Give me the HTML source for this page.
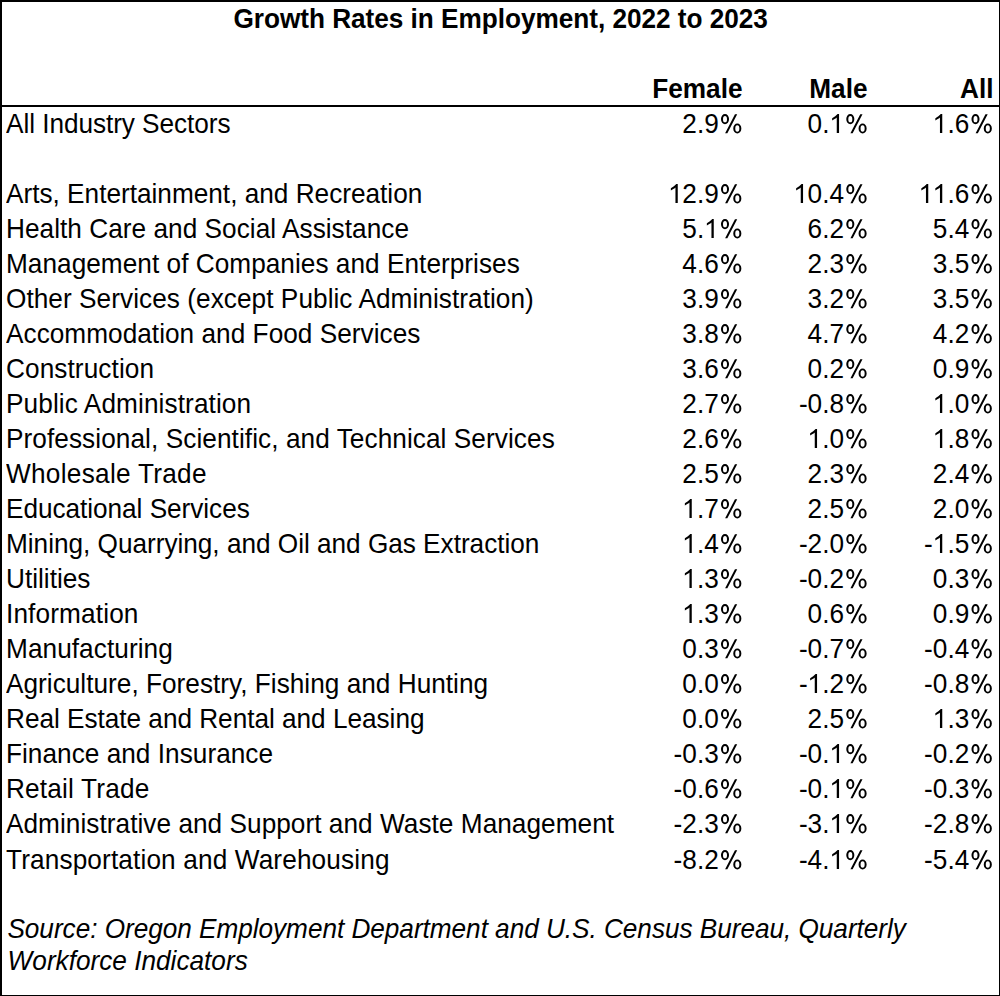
<!DOCTYPE html>
<html><head><meta charset="utf-8"><title>Growth Rates in Employment, 2022 to 2023</title>
<style>
html,body{margin:0;padding:0;background:#fff;}
body{width:1000px;height:996px;position:relative;overflow:hidden;font-family:"Liberation Sans",sans-serif;color:#000;}
.l{position:absolute;height:35px;line-height:35px;font-size:26.2px;white-space:nowrap;transform-origin:0 26px;}
.n{text-align:right;transform-origin:100% 26px;}
.b{font-weight:bold;}
.i{font-style:italic;}
.bl{position:absolute;background:#000;}
.o1{vertical-align:baseline;display:inline-block;}
.pc{display:inline-block;}
</style></head><body>

<div class="bl" style="left:0;top:0;width:1000px;height:2px"></div>
<div class="bl" style="left:0;top:0;width:2px;height:996px"></div>
<div class="bl" style="left:999px;top:0;width:1px;height:996px"></div>
<div class="bl" style="left:0;top:995px;width:1000px;height:1px"></div>
<div class="bl" style="left:0;top:105px;width:1000px;height:2px"></div>
<div class="l b" style="top:2px;left:233px;letter-spacing:-0.0308px;transform:translate(0.5px,0px) scaleY(1.05);">Growth Rates in Employment, 2022 to 2023</div>
<div class="l b n" style="top:72px;right:258px;transform:translate(0.5px,0px) scaleY(1.05);">Female</div>
<div class="l b n" style="top:72px;right:133px;transform:translate(0.5px,0px) scaleY(1.05);">Male</div>
<div class="l b n" style="top:72px;right:8px;transform:translate(1.5px,0px) scaleY(1.05);">All</div>
<div class="l" style="top:107px;left:6px;letter-spacing:-0.0526px;transform:scaleY(1.05);">All Industry Sectors</div>
<div class="l n" style="top:107px;right:258px;transform:scaleY(1.05);">2.9<svg class="pc" viewBox="0 0 1821 1500" width="23.296" height="19.189" style="vertical-align:-0.768px"><path fill-rule="evenodd" d="M153.0 372A316.5 376 0 1 0 786.0 372A316.5 376 0 1 0 153.0 372ZM314 374A156 240 0 1 0 626 374A156 240 0 1 0 314 374ZM1115.0 1067.5A316.5 372.5 0 1 0 1748.0 1067.5A316.5 372.5 0 1 0 1115.0 1067.5ZM1272 1069A160 238 0 1 0 1592 1069A160 238 0 1 0 1272 1069ZM478 1425L653 1425L1424 20L1248 20Z"/></svg></div>
<div class="l n" style="top:107px;right:133px;transform:translate(0.3px,0px) scaleY(1.05);">0.<svg class="o1" viewBox="0 0 1139 1409" width="14.571" height="18.025"><path d="M763 1409L583 1409L583 262C518 324 412 386 223 479L223 305C374 234 560 109 647 0L763 0Z"/></svg><svg class="pc" viewBox="0 0 1821 1500" width="23.296" height="19.189" style="vertical-align:-0.768px"><path fill-rule="evenodd" d="M153.0 372A316.5 376 0 1 0 786.0 372A316.5 376 0 1 0 153.0 372ZM314 374A156 240 0 1 0 626 374A156 240 0 1 0 314 374ZM1115.0 1067.5A316.5 372.5 0 1 0 1748.0 1067.5A316.5 372.5 0 1 0 1115.0 1067.5ZM1272 1069A160 238 0 1 0 1592 1069A160 238 0 1 0 1272 1069ZM478 1425L653 1425L1424 20L1248 20Z"/></svg></div>
<div class="l n" style="top:107px;right:8px;transform:translate(0.5px,0px) scaleY(1.05);"><svg class="o1" viewBox="0 0 1139 1409" width="14.571" height="18.025"><path d="M763 1409L583 1409L583 262C518 324 412 386 223 479L223 305C374 234 560 109 647 0L763 0Z"/></svg>.6<svg class="pc" viewBox="0 0 1821 1500" width="23.296" height="19.189" style="vertical-align:-0.768px"><path fill-rule="evenodd" d="M153.0 372A316.5 376 0 1 0 786.0 372A316.5 376 0 1 0 153.0 372ZM314 374A156 240 0 1 0 626 374A156 240 0 1 0 314 374ZM1115.0 1067.5A316.5 372.5 0 1 0 1748.0 1067.5A316.5 372.5 0 1 0 1115.0 1067.5ZM1272 1069A160 238 0 1 0 1592 1069A160 238 0 1 0 1272 1069ZM478 1425L653 1425L1424 20L1248 20Z"/></svg></div>
<div class="l" style="top:177px;left:6px;transform:scaleY(1.05);">Arts, Entertainment, and Recreation</div>
<div class="l n" style="top:177px;right:258px;transform:scaleY(1.05);"><svg class="o1" viewBox="0 0 1139 1409" width="14.571" height="18.025"><path d="M763 1409L583 1409L583 262C518 324 412 386 223 479L223 305C374 234 560 109 647 0L763 0Z"/></svg>2.9<svg class="pc" viewBox="0 0 1821 1500" width="23.296" height="19.189" style="vertical-align:-0.768px"><path fill-rule="evenodd" d="M153.0 372A316.5 376 0 1 0 786.0 372A316.5 376 0 1 0 153.0 372ZM314 374A156 240 0 1 0 626 374A156 240 0 1 0 314 374ZM1115.0 1067.5A316.5 372.5 0 1 0 1748.0 1067.5A316.5 372.5 0 1 0 1115.0 1067.5ZM1272 1069A160 238 0 1 0 1592 1069A160 238 0 1 0 1272 1069ZM478 1425L653 1425L1424 20L1248 20Z"/></svg></div>
<div class="l n" style="top:177px;right:133px;transform:translate(0.3px,0px) scaleY(1.05);"><svg class="o1" viewBox="0 0 1139 1409" width="14.571" height="18.025"><path d="M763 1409L583 1409L583 262C518 324 412 386 223 479L223 305C374 234 560 109 647 0L763 0Z"/></svg>0.4<svg class="pc" viewBox="0 0 1821 1500" width="23.296" height="19.189" style="vertical-align:-0.768px"><path fill-rule="evenodd" d="M153.0 372A316.5 376 0 1 0 786.0 372A316.5 376 0 1 0 153.0 372ZM314 374A156 240 0 1 0 626 374A156 240 0 1 0 314 374ZM1115.0 1067.5A316.5 372.5 0 1 0 1748.0 1067.5A316.5 372.5 0 1 0 1115.0 1067.5ZM1272 1069A160 238 0 1 0 1592 1069A160 238 0 1 0 1272 1069ZM478 1425L653 1425L1424 20L1248 20Z"/></svg></div>
<div class="l n" style="top:177px;right:8px;transform:translate(0.5px,0px) scaleY(1.05);"><svg class="o1" viewBox="0 0 1139 1409" width="14.571" height="18.025"><path d="M763 1409L583 1409L583 262C518 324 412 386 223 479L223 305C374 234 560 109 647 0L763 0Z"/></svg><svg class="o1" viewBox="0 0 1139 1409" width="14.571" height="18.025"><path d="M763 1409L583 1409L583 262C518 324 412 386 223 479L223 305C374 234 560 109 647 0L763 0Z"/></svg>.6<svg class="pc" viewBox="0 0 1821 1500" width="23.296" height="19.189" style="vertical-align:-0.768px"><path fill-rule="evenodd" d="M153.0 372A316.5 376 0 1 0 786.0 372A316.5 376 0 1 0 153.0 372ZM314 374A156 240 0 1 0 626 374A156 240 0 1 0 314 374ZM1115.0 1067.5A316.5 372.5 0 1 0 1748.0 1067.5A316.5 372.5 0 1 0 1115.0 1067.5ZM1272 1069A160 238 0 1 0 1592 1069A160 238 0 1 0 1272 1069ZM478 1425L653 1425L1424 20L1248 20Z"/></svg></div>
<div class="l" style="top:212px;left:6px;letter-spacing:0.0375px;transform:scaleY(1.05);">Health Care and Social Assistance</div>
<div class="l n" style="top:212px;right:258px;transform:scaleY(1.05);">5.<svg class="o1" viewBox="0 0 1139 1409" width="14.571" height="18.025"><path d="M763 1409L583 1409L583 262C518 324 412 386 223 479L223 305C374 234 560 109 647 0L763 0Z"/></svg><svg class="pc" viewBox="0 0 1821 1500" width="23.296" height="19.189" style="vertical-align:-0.768px"><path fill-rule="evenodd" d="M153.0 372A316.5 376 0 1 0 786.0 372A316.5 376 0 1 0 153.0 372ZM314 374A156 240 0 1 0 626 374A156 240 0 1 0 314 374ZM1115.0 1067.5A316.5 372.5 0 1 0 1748.0 1067.5A316.5 372.5 0 1 0 1115.0 1067.5ZM1272 1069A160 238 0 1 0 1592 1069A160 238 0 1 0 1272 1069ZM478 1425L653 1425L1424 20L1248 20Z"/></svg></div>
<div class="l n" style="top:212px;right:133px;transform:translate(0.3px,0px) scaleY(1.05);">6.2<svg class="pc" viewBox="0 0 1821 1500" width="23.296" height="19.189" style="vertical-align:-0.768px"><path fill-rule="evenodd" d="M153.0 372A316.5 376 0 1 0 786.0 372A316.5 376 0 1 0 153.0 372ZM314 374A156 240 0 1 0 626 374A156 240 0 1 0 314 374ZM1115.0 1067.5A316.5 372.5 0 1 0 1748.0 1067.5A316.5 372.5 0 1 0 1115.0 1067.5ZM1272 1069A160 238 0 1 0 1592 1069A160 238 0 1 0 1272 1069ZM478 1425L653 1425L1424 20L1248 20Z"/></svg></div>
<div class="l n" style="top:212px;right:8px;transform:translate(0.5px,0px) scaleY(1.05);">5.4<svg class="pc" viewBox="0 0 1821 1500" width="23.296" height="19.189" style="vertical-align:-0.768px"><path fill-rule="evenodd" d="M153.0 372A316.5 376 0 1 0 786.0 372A316.5 376 0 1 0 153.0 372ZM314 374A156 240 0 1 0 626 374A156 240 0 1 0 314 374ZM1115.0 1067.5A316.5 372.5 0 1 0 1748.0 1067.5A316.5 372.5 0 1 0 1115.0 1067.5ZM1272 1069A160 238 0 1 0 1592 1069A160 238 0 1 0 1272 1069ZM478 1425L653 1425L1424 20L1248 20Z"/></svg></div>
<div class="l" style="top:247px;left:6px;letter-spacing:0.0368px;transform:scaleY(1.05);">Management of Companies and Enterprises</div>
<div class="l n" style="top:247px;right:258px;transform:scaleY(1.05);">4.6<svg class="pc" viewBox="0 0 1821 1500" width="23.296" height="19.189" style="vertical-align:-0.768px"><path fill-rule="evenodd" d="M153.0 372A316.5 376 0 1 0 786.0 372A316.5 376 0 1 0 153.0 372ZM314 374A156 240 0 1 0 626 374A156 240 0 1 0 314 374ZM1115.0 1067.5A316.5 372.5 0 1 0 1748.0 1067.5A316.5 372.5 0 1 0 1115.0 1067.5ZM1272 1069A160 238 0 1 0 1592 1069A160 238 0 1 0 1272 1069ZM478 1425L653 1425L1424 20L1248 20Z"/></svg></div>
<div class="l n" style="top:247px;right:133px;transform:translate(0.3px,0px) scaleY(1.05);">2.3<svg class="pc" viewBox="0 0 1821 1500" width="23.296" height="19.189" style="vertical-align:-0.768px"><path fill-rule="evenodd" d="M153.0 372A316.5 376 0 1 0 786.0 372A316.5 376 0 1 0 153.0 372ZM314 374A156 240 0 1 0 626 374A156 240 0 1 0 314 374ZM1115.0 1067.5A316.5 372.5 0 1 0 1748.0 1067.5A316.5 372.5 0 1 0 1115.0 1067.5ZM1272 1069A160 238 0 1 0 1592 1069A160 238 0 1 0 1272 1069ZM478 1425L653 1425L1424 20L1248 20Z"/></svg></div>
<div class="l n" style="top:247px;right:8px;transform:translate(0.5px,0px) scaleY(1.05);">3.5<svg class="pc" viewBox="0 0 1821 1500" width="23.296" height="19.189" style="vertical-align:-0.768px"><path fill-rule="evenodd" d="M153.0 372A316.5 376 0 1 0 786.0 372A316.5 376 0 1 0 153.0 372ZM314 374A156 240 0 1 0 626 374A156 240 0 1 0 314 374ZM1115.0 1067.5A316.5 372.5 0 1 0 1748.0 1067.5A316.5 372.5 0 1 0 1115.0 1067.5ZM1272 1069A160 238 0 1 0 1592 1069A160 238 0 1 0 1272 1069ZM478 1425L653 1425L1424 20L1248 20Z"/></svg></div>
<div class="l" style="top:282px;left:6px;letter-spacing:0.0545px;transform:scaleY(1.05);">Other Services (except Public Administration)</div>
<div class="l n" style="top:282px;right:258px;transform:scaleY(1.05);">3.9<svg class="pc" viewBox="0 0 1821 1500" width="23.296" height="19.189" style="vertical-align:-0.768px"><path fill-rule="evenodd" d="M153.0 372A316.5 376 0 1 0 786.0 372A316.5 376 0 1 0 153.0 372ZM314 374A156 240 0 1 0 626 374A156 240 0 1 0 314 374ZM1115.0 1067.5A316.5 372.5 0 1 0 1748.0 1067.5A316.5 372.5 0 1 0 1115.0 1067.5ZM1272 1069A160 238 0 1 0 1592 1069A160 238 0 1 0 1272 1069ZM478 1425L653 1425L1424 20L1248 20Z"/></svg></div>
<div class="l n" style="top:282px;right:133px;transform:translate(0.3px,0px) scaleY(1.05);">3.2<svg class="pc" viewBox="0 0 1821 1500" width="23.296" height="19.189" style="vertical-align:-0.768px"><path fill-rule="evenodd" d="M153.0 372A316.5 376 0 1 0 786.0 372A316.5 376 0 1 0 153.0 372ZM314 374A156 240 0 1 0 626 374A156 240 0 1 0 314 374ZM1115.0 1067.5A316.5 372.5 0 1 0 1748.0 1067.5A316.5 372.5 0 1 0 1115.0 1067.5ZM1272 1069A160 238 0 1 0 1592 1069A160 238 0 1 0 1272 1069ZM478 1425L653 1425L1424 20L1248 20Z"/></svg></div>
<div class="l n" style="top:282px;right:8px;transform:translate(0.5px,0px) scaleY(1.05);">3.5<svg class="pc" viewBox="0 0 1821 1500" width="23.296" height="19.189" style="vertical-align:-0.768px"><path fill-rule="evenodd" d="M153.0 372A316.5 376 0 1 0 786.0 372A316.5 376 0 1 0 153.0 372ZM314 374A156 240 0 1 0 626 374A156 240 0 1 0 314 374ZM1115.0 1067.5A316.5 372.5 0 1 0 1748.0 1067.5A316.5 372.5 0 1 0 1115.0 1067.5ZM1272 1069A160 238 0 1 0 1592 1069A160 238 0 1 0 1272 1069ZM478 1425L653 1425L1424 20L1248 20Z"/></svg></div>
<div class="l" style="top:317px;left:6px;letter-spacing:0.0333px;transform:scaleY(1.05);">Accommodation and Food Services</div>
<div class="l n" style="top:317px;right:258px;transform:scaleY(1.05);">3.8<svg class="pc" viewBox="0 0 1821 1500" width="23.296" height="19.189" style="vertical-align:-0.768px"><path fill-rule="evenodd" d="M153.0 372A316.5 376 0 1 0 786.0 372A316.5 376 0 1 0 153.0 372ZM314 374A156 240 0 1 0 626 374A156 240 0 1 0 314 374ZM1115.0 1067.5A316.5 372.5 0 1 0 1748.0 1067.5A316.5 372.5 0 1 0 1115.0 1067.5ZM1272 1069A160 238 0 1 0 1592 1069A160 238 0 1 0 1272 1069ZM478 1425L653 1425L1424 20L1248 20Z"/></svg></div>
<div class="l n" style="top:317px;right:133px;transform:translate(0.3px,0px) scaleY(1.05);">4.7<svg class="pc" viewBox="0 0 1821 1500" width="23.296" height="19.189" style="vertical-align:-0.768px"><path fill-rule="evenodd" d="M153.0 372A316.5 376 0 1 0 786.0 372A316.5 376 0 1 0 153.0 372ZM314 374A156 240 0 1 0 626 374A156 240 0 1 0 314 374ZM1115.0 1067.5A316.5 372.5 0 1 0 1748.0 1067.5A316.5 372.5 0 1 0 1115.0 1067.5ZM1272 1069A160 238 0 1 0 1592 1069A160 238 0 1 0 1272 1069ZM478 1425L653 1425L1424 20L1248 20Z"/></svg></div>
<div class="l n" style="top:317px;right:8px;transform:translate(0.5px,0px) scaleY(1.05);">4.2<svg class="pc" viewBox="0 0 1821 1500" width="23.296" height="19.189" style="vertical-align:-0.768px"><path fill-rule="evenodd" d="M153.0 372A316.5 376 0 1 0 786.0 372A316.5 376 0 1 0 153.0 372ZM314 374A156 240 0 1 0 626 374A156 240 0 1 0 314 374ZM1115.0 1067.5A316.5 372.5 0 1 0 1748.0 1067.5A316.5 372.5 0 1 0 1115.0 1067.5ZM1272 1069A160 238 0 1 0 1592 1069A160 238 0 1 0 1272 1069ZM478 1425L653 1425L1424 20L1248 20Z"/></svg></div>
<div class="l" style="top:352px;left:6px;letter-spacing:0.0909px;transform:scaleY(1.05);">Construction</div>
<div class="l n" style="top:352px;right:258px;transform:scaleY(1.05);">3.6<svg class="pc" viewBox="0 0 1821 1500" width="23.296" height="19.189" style="vertical-align:-0.768px"><path fill-rule="evenodd" d="M153.0 372A316.5 376 0 1 0 786.0 372A316.5 376 0 1 0 153.0 372ZM314 374A156 240 0 1 0 626 374A156 240 0 1 0 314 374ZM1115.0 1067.5A316.5 372.5 0 1 0 1748.0 1067.5A316.5 372.5 0 1 0 1115.0 1067.5ZM1272 1069A160 238 0 1 0 1592 1069A160 238 0 1 0 1272 1069ZM478 1425L653 1425L1424 20L1248 20Z"/></svg></div>
<div class="l n" style="top:352px;right:133px;transform:translate(0.3px,0px) scaleY(1.05);">0.2<svg class="pc" viewBox="0 0 1821 1500" width="23.296" height="19.189" style="vertical-align:-0.768px"><path fill-rule="evenodd" d="M153.0 372A316.5 376 0 1 0 786.0 372A316.5 376 0 1 0 153.0 372ZM314 374A156 240 0 1 0 626 374A156 240 0 1 0 314 374ZM1115.0 1067.5A316.5 372.5 0 1 0 1748.0 1067.5A316.5 372.5 0 1 0 1115.0 1067.5ZM1272 1069A160 238 0 1 0 1592 1069A160 238 0 1 0 1272 1069ZM478 1425L653 1425L1424 20L1248 20Z"/></svg></div>
<div class="l n" style="top:352px;right:8px;transform:translate(0.5px,0px) scaleY(1.05);">0.9<svg class="pc" viewBox="0 0 1821 1500" width="23.296" height="19.189" style="vertical-align:-0.768px"><path fill-rule="evenodd" d="M153.0 372A316.5 376 0 1 0 786.0 372A316.5 376 0 1 0 153.0 372ZM314 374A156 240 0 1 0 626 374A156 240 0 1 0 314 374ZM1115.0 1067.5A316.5 372.5 0 1 0 1748.0 1067.5A316.5 372.5 0 1 0 1115.0 1067.5ZM1272 1069A160 238 0 1 0 1592 1069A160 238 0 1 0 1272 1069ZM478 1425L653 1425L1424 20L1248 20Z"/></svg></div>
<div class="l" style="top:387px;left:6px;letter-spacing:0.1000px;transform:scaleY(1.05);">Public Administration</div>
<div class="l n" style="top:387px;right:258px;transform:scaleY(1.05);">2.7<svg class="pc" viewBox="0 0 1821 1500" width="23.296" height="19.189" style="vertical-align:-0.768px"><path fill-rule="evenodd" d="M153.0 372A316.5 376 0 1 0 786.0 372A316.5 376 0 1 0 153.0 372ZM314 374A156 240 0 1 0 626 374A156 240 0 1 0 314 374ZM1115.0 1067.5A316.5 372.5 0 1 0 1748.0 1067.5A316.5 372.5 0 1 0 1115.0 1067.5ZM1272 1069A160 238 0 1 0 1592 1069A160 238 0 1 0 1272 1069ZM478 1425L653 1425L1424 20L1248 20Z"/></svg></div>
<div class="l n" style="top:387px;right:133px;transform:translate(0.3px,0px) scaleY(1.05);">-0.8<svg class="pc" viewBox="0 0 1821 1500" width="23.296" height="19.189" style="vertical-align:-0.768px"><path fill-rule="evenodd" d="M153.0 372A316.5 376 0 1 0 786.0 372A316.5 376 0 1 0 153.0 372ZM314 374A156 240 0 1 0 626 374A156 240 0 1 0 314 374ZM1115.0 1067.5A316.5 372.5 0 1 0 1748.0 1067.5A316.5 372.5 0 1 0 1115.0 1067.5ZM1272 1069A160 238 0 1 0 1592 1069A160 238 0 1 0 1272 1069ZM478 1425L653 1425L1424 20L1248 20Z"/></svg></div>
<div class="l n" style="top:387px;right:8px;transform:translate(0.5px,0px) scaleY(1.05);"><svg class="o1" viewBox="0 0 1139 1409" width="14.571" height="18.025"><path d="M763 1409L583 1409L583 262C518 324 412 386 223 479L223 305C374 234 560 109 647 0L763 0Z"/></svg>.0<svg class="pc" viewBox="0 0 1821 1500" width="23.296" height="19.189" style="vertical-align:-0.768px"><path fill-rule="evenodd" d="M153.0 372A316.5 376 0 1 0 786.0 372A316.5 376 0 1 0 153.0 372ZM314 374A156 240 0 1 0 626 374A156 240 0 1 0 314 374ZM1115.0 1067.5A316.5 372.5 0 1 0 1748.0 1067.5A316.5 372.5 0 1 0 1115.0 1067.5ZM1272 1069A160 238 0 1 0 1592 1069A160 238 0 1 0 1272 1069ZM478 1425L653 1425L1424 20L1248 20Z"/></svg></div>
<div class="l" style="top:422px;left:6px;letter-spacing:0.0723px;transform:scaleY(1.05);">Professional, Scientific, and Technical Services</div>
<div class="l n" style="top:422px;right:258px;transform:scaleY(1.05);">2.6<svg class="pc" viewBox="0 0 1821 1500" width="23.296" height="19.189" style="vertical-align:-0.768px"><path fill-rule="evenodd" d="M153.0 372A316.5 376 0 1 0 786.0 372A316.5 376 0 1 0 153.0 372ZM314 374A156 240 0 1 0 626 374A156 240 0 1 0 314 374ZM1115.0 1067.5A316.5 372.5 0 1 0 1748.0 1067.5A316.5 372.5 0 1 0 1115.0 1067.5ZM1272 1069A160 238 0 1 0 1592 1069A160 238 0 1 0 1272 1069ZM478 1425L653 1425L1424 20L1248 20Z"/></svg></div>
<div class="l n" style="top:422px;right:133px;transform:translate(0.3px,0px) scaleY(1.05);"><svg class="o1" viewBox="0 0 1139 1409" width="14.571" height="18.025"><path d="M763 1409L583 1409L583 262C518 324 412 386 223 479L223 305C374 234 560 109 647 0L763 0Z"/></svg>.0<svg class="pc" viewBox="0 0 1821 1500" width="23.296" height="19.189" style="vertical-align:-0.768px"><path fill-rule="evenodd" d="M153.0 372A316.5 376 0 1 0 786.0 372A316.5 376 0 1 0 153.0 372ZM314 374A156 240 0 1 0 626 374A156 240 0 1 0 314 374ZM1115.0 1067.5A316.5 372.5 0 1 0 1748.0 1067.5A316.5 372.5 0 1 0 1115.0 1067.5ZM1272 1069A160 238 0 1 0 1592 1069A160 238 0 1 0 1272 1069ZM478 1425L653 1425L1424 20L1248 20Z"/></svg></div>
<div class="l n" style="top:422px;right:8px;transform:translate(0.5px,0px) scaleY(1.05);"><svg class="o1" viewBox="0 0 1139 1409" width="14.571" height="18.025"><path d="M763 1409L583 1409L583 262C518 324 412 386 223 479L223 305C374 234 560 109 647 0L763 0Z"/></svg>.8<svg class="pc" viewBox="0 0 1821 1500" width="23.296" height="19.189" style="vertical-align:-0.768px"><path fill-rule="evenodd" d="M153.0 372A316.5 376 0 1 0 786.0 372A316.5 376 0 1 0 153.0 372ZM314 374A156 240 0 1 0 626 374A156 240 0 1 0 314 374ZM1115.0 1067.5A316.5 372.5 0 1 0 1748.0 1067.5A316.5 372.5 0 1 0 1115.0 1067.5ZM1272 1069A160 238 0 1 0 1592 1069A160 238 0 1 0 1272 1069ZM478 1425L653 1425L1424 20L1248 20Z"/></svg></div>
<div class="l" style="top:457px;left:6px;letter-spacing:0.2857px;transform:scaleY(1.05);">Wholesale Trade</div>
<div class="l n" style="top:457px;right:258px;transform:scaleY(1.05);">2.5<svg class="pc" viewBox="0 0 1821 1500" width="23.296" height="19.189" style="vertical-align:-0.768px"><path fill-rule="evenodd" d="M153.0 372A316.5 376 0 1 0 786.0 372A316.5 376 0 1 0 153.0 372ZM314 374A156 240 0 1 0 626 374A156 240 0 1 0 314 374ZM1115.0 1067.5A316.5 372.5 0 1 0 1748.0 1067.5A316.5 372.5 0 1 0 1115.0 1067.5ZM1272 1069A160 238 0 1 0 1592 1069A160 238 0 1 0 1272 1069ZM478 1425L653 1425L1424 20L1248 20Z"/></svg></div>
<div class="l n" style="top:457px;right:133px;transform:translate(0.3px,0px) scaleY(1.05);">2.3<svg class="pc" viewBox="0 0 1821 1500" width="23.296" height="19.189" style="vertical-align:-0.768px"><path fill-rule="evenodd" d="M153.0 372A316.5 376 0 1 0 786.0 372A316.5 376 0 1 0 153.0 372ZM314 374A156 240 0 1 0 626 374A156 240 0 1 0 314 374ZM1115.0 1067.5A316.5 372.5 0 1 0 1748.0 1067.5A316.5 372.5 0 1 0 1115.0 1067.5ZM1272 1069A160 238 0 1 0 1592 1069A160 238 0 1 0 1272 1069ZM478 1425L653 1425L1424 20L1248 20Z"/></svg></div>
<div class="l n" style="top:457px;right:8px;transform:translate(0.5px,0px) scaleY(1.05);">2.4<svg class="pc" viewBox="0 0 1821 1500" width="23.296" height="19.189" style="vertical-align:-0.768px"><path fill-rule="evenodd" d="M153.0 372A316.5 376 0 1 0 786.0 372A316.5 376 0 1 0 153.0 372ZM314 374A156 240 0 1 0 626 374A156 240 0 1 0 314 374ZM1115.0 1067.5A316.5 372.5 0 1 0 1748.0 1067.5A316.5 372.5 0 1 0 1115.0 1067.5ZM1272 1069A160 238 0 1 0 1592 1069A160 238 0 1 0 1272 1069ZM478 1425L653 1425L1424 20L1248 20Z"/></svg></div>
<div class="l" style="top:492px;left:6px;letter-spacing:-0.0421px;transform:scaleY(1.05);">Educational Services</div>
<div class="l n" style="top:492px;right:258px;transform:scaleY(1.05);"><svg class="o1" viewBox="0 0 1139 1409" width="14.571" height="18.025"><path d="M763 1409L583 1409L583 262C518 324 412 386 223 479L223 305C374 234 560 109 647 0L763 0Z"/></svg>.7<svg class="pc" viewBox="0 0 1821 1500" width="23.296" height="19.189" style="vertical-align:-0.768px"><path fill-rule="evenodd" d="M153.0 372A316.5 376 0 1 0 786.0 372A316.5 376 0 1 0 153.0 372ZM314 374A156 240 0 1 0 626 374A156 240 0 1 0 314 374ZM1115.0 1067.5A316.5 372.5 0 1 0 1748.0 1067.5A316.5 372.5 0 1 0 1115.0 1067.5ZM1272 1069A160 238 0 1 0 1592 1069A160 238 0 1 0 1272 1069ZM478 1425L653 1425L1424 20L1248 20Z"/></svg></div>
<div class="l n" style="top:492px;right:133px;transform:translate(0.3px,0px) scaleY(1.05);">2.5<svg class="pc" viewBox="0 0 1821 1500" width="23.296" height="19.189" style="vertical-align:-0.768px"><path fill-rule="evenodd" d="M153.0 372A316.5 376 0 1 0 786.0 372A316.5 376 0 1 0 153.0 372ZM314 374A156 240 0 1 0 626 374A156 240 0 1 0 314 374ZM1115.0 1067.5A316.5 372.5 0 1 0 1748.0 1067.5A316.5 372.5 0 1 0 1115.0 1067.5ZM1272 1069A160 238 0 1 0 1592 1069A160 238 0 1 0 1272 1069ZM478 1425L653 1425L1424 20L1248 20Z"/></svg></div>
<div class="l n" style="top:492px;right:8px;transform:translate(0.5px,0px) scaleY(1.05);">2.0<svg class="pc" viewBox="0 0 1821 1500" width="23.296" height="19.189" style="vertical-align:-0.768px"><path fill-rule="evenodd" d="M153.0 372A316.5 376 0 1 0 786.0 372A316.5 376 0 1 0 153.0 372ZM314 374A156 240 0 1 0 626 374A156 240 0 1 0 314 374ZM1115.0 1067.5A316.5 372.5 0 1 0 1748.0 1067.5A316.5 372.5 0 1 0 1115.0 1067.5ZM1272 1069A160 238 0 1 0 1592 1069A160 238 0 1 0 1272 1069ZM478 1425L653 1425L1424 20L1248 20Z"/></svg></div>
<div class="l" style="top:527px;left:6px;letter-spacing:-0.0182px;transform:scaleY(1.05);">Mining, Quarrying, and Oil and Gas Extraction</div>
<div class="l n" style="top:527px;right:258px;transform:scaleY(1.05);"><svg class="o1" viewBox="0 0 1139 1409" width="14.571" height="18.025"><path d="M763 1409L583 1409L583 262C518 324 412 386 223 479L223 305C374 234 560 109 647 0L763 0Z"/></svg>.4<svg class="pc" viewBox="0 0 1821 1500" width="23.296" height="19.189" style="vertical-align:-0.768px"><path fill-rule="evenodd" d="M153.0 372A316.5 376 0 1 0 786.0 372A316.5 376 0 1 0 153.0 372ZM314 374A156 240 0 1 0 626 374A156 240 0 1 0 314 374ZM1115.0 1067.5A316.5 372.5 0 1 0 1748.0 1067.5A316.5 372.5 0 1 0 1115.0 1067.5ZM1272 1069A160 238 0 1 0 1592 1069A160 238 0 1 0 1272 1069ZM478 1425L653 1425L1424 20L1248 20Z"/></svg></div>
<div class="l n" style="top:527px;right:133px;transform:translate(0.3px,0px) scaleY(1.05);">-2.0<svg class="pc" viewBox="0 0 1821 1500" width="23.296" height="19.189" style="vertical-align:-0.768px"><path fill-rule="evenodd" d="M153.0 372A316.5 376 0 1 0 786.0 372A316.5 376 0 1 0 153.0 372ZM314 374A156 240 0 1 0 626 374A156 240 0 1 0 314 374ZM1115.0 1067.5A316.5 372.5 0 1 0 1748.0 1067.5A316.5 372.5 0 1 0 1115.0 1067.5ZM1272 1069A160 238 0 1 0 1592 1069A160 238 0 1 0 1272 1069ZM478 1425L653 1425L1424 20L1248 20Z"/></svg></div>
<div class="l n" style="top:527px;right:8px;transform:translate(0.5px,0px) scaleY(1.05);">-<svg class="o1" viewBox="0 0 1139 1409" width="14.571" height="18.025"><path d="M763 1409L583 1409L583 262C518 324 412 386 223 479L223 305C374 234 560 109 647 0L763 0Z"/></svg>.5<svg class="pc" viewBox="0 0 1821 1500" width="23.296" height="19.189" style="vertical-align:-0.768px"><path fill-rule="evenodd" d="M153.0 372A316.5 376 0 1 0 786.0 372A316.5 376 0 1 0 153.0 372ZM314 374A156 240 0 1 0 626 374A156 240 0 1 0 314 374ZM1115.0 1067.5A316.5 372.5 0 1 0 1748.0 1067.5A316.5 372.5 0 1 0 1115.0 1067.5ZM1272 1069A160 238 0 1 0 1592 1069A160 238 0 1 0 1272 1069ZM478 1425L653 1425L1424 20L1248 20Z"/></svg></div>
<div class="l" style="top:562px;left:6px;transform:scaleY(1.05);">Utilities</div>
<div class="l n" style="top:562px;right:258px;transform:scaleY(1.05);"><svg class="o1" viewBox="0 0 1139 1409" width="14.571" height="18.025"><path d="M763 1409L583 1409L583 262C518 324 412 386 223 479L223 305C374 234 560 109 647 0L763 0Z"/></svg>.3<svg class="pc" viewBox="0 0 1821 1500" width="23.296" height="19.189" style="vertical-align:-0.768px"><path fill-rule="evenodd" d="M153.0 372A316.5 376 0 1 0 786.0 372A316.5 376 0 1 0 153.0 372ZM314 374A156 240 0 1 0 626 374A156 240 0 1 0 314 374ZM1115.0 1067.5A316.5 372.5 0 1 0 1748.0 1067.5A316.5 372.5 0 1 0 1115.0 1067.5ZM1272 1069A160 238 0 1 0 1592 1069A160 238 0 1 0 1272 1069ZM478 1425L653 1425L1424 20L1248 20Z"/></svg></div>
<div class="l n" style="top:562px;right:133px;transform:translate(0.3px,0px) scaleY(1.05);">-0.2<svg class="pc" viewBox="0 0 1821 1500" width="23.296" height="19.189" style="vertical-align:-0.768px"><path fill-rule="evenodd" d="M153.0 372A316.5 376 0 1 0 786.0 372A316.5 376 0 1 0 153.0 372ZM314 374A156 240 0 1 0 626 374A156 240 0 1 0 314 374ZM1115.0 1067.5A316.5 372.5 0 1 0 1748.0 1067.5A316.5 372.5 0 1 0 1115.0 1067.5ZM1272 1069A160 238 0 1 0 1592 1069A160 238 0 1 0 1272 1069ZM478 1425L653 1425L1424 20L1248 20Z"/></svg></div>
<div class="l n" style="top:562px;right:8px;transform:translate(0.5px,0px) scaleY(1.05);">0.3<svg class="pc" viewBox="0 0 1821 1500" width="23.296" height="19.189" style="vertical-align:-0.768px"><path fill-rule="evenodd" d="M153.0 372A316.5 376 0 1 0 786.0 372A316.5 376 0 1 0 153.0 372ZM314 374A156 240 0 1 0 626 374A156 240 0 1 0 314 374ZM1115.0 1067.5A316.5 372.5 0 1 0 1748.0 1067.5A316.5 372.5 0 1 0 1115.0 1067.5ZM1272 1069A160 238 0 1 0 1592 1069A160 238 0 1 0 1272 1069ZM478 1425L653 1425L1424 20L1248 20Z"/></svg></div>
<div class="l" style="top:597px;left:6px;letter-spacing:0.1400px;transform:scaleY(1.05);">Information</div>
<div class="l n" style="top:597px;right:258px;transform:scaleY(1.05);"><svg class="o1" viewBox="0 0 1139 1409" width="14.571" height="18.025"><path d="M763 1409L583 1409L583 262C518 324 412 386 223 479L223 305C374 234 560 109 647 0L763 0Z"/></svg>.3<svg class="pc" viewBox="0 0 1821 1500" width="23.296" height="19.189" style="vertical-align:-0.768px"><path fill-rule="evenodd" d="M153.0 372A316.5 376 0 1 0 786.0 372A316.5 376 0 1 0 153.0 372ZM314 374A156 240 0 1 0 626 374A156 240 0 1 0 314 374ZM1115.0 1067.5A316.5 372.5 0 1 0 1748.0 1067.5A316.5 372.5 0 1 0 1115.0 1067.5ZM1272 1069A160 238 0 1 0 1592 1069A160 238 0 1 0 1272 1069ZM478 1425L653 1425L1424 20L1248 20Z"/></svg></div>
<div class="l n" style="top:597px;right:133px;transform:translate(0.3px,0px) scaleY(1.05);">0.6<svg class="pc" viewBox="0 0 1821 1500" width="23.296" height="19.189" style="vertical-align:-0.768px"><path fill-rule="evenodd" d="M153.0 372A316.5 376 0 1 0 786.0 372A316.5 376 0 1 0 153.0 372ZM314 374A156 240 0 1 0 626 374A156 240 0 1 0 314 374ZM1115.0 1067.5A316.5 372.5 0 1 0 1748.0 1067.5A316.5 372.5 0 1 0 1115.0 1067.5ZM1272 1069A160 238 0 1 0 1592 1069A160 238 0 1 0 1272 1069ZM478 1425L653 1425L1424 20L1248 20Z"/></svg></div>
<div class="l n" style="top:597px;right:8px;transform:translate(0.5px,0px) scaleY(1.05);">0.9<svg class="pc" viewBox="0 0 1821 1500" width="23.296" height="19.189" style="vertical-align:-0.768px"><path fill-rule="evenodd" d="M153.0 372A316.5 376 0 1 0 786.0 372A316.5 376 0 1 0 153.0 372ZM314 374A156 240 0 1 0 626 374A156 240 0 1 0 314 374ZM1115.0 1067.5A316.5 372.5 0 1 0 1748.0 1067.5A316.5 372.5 0 1 0 1115.0 1067.5ZM1272 1069A160 238 0 1 0 1592 1069A160 238 0 1 0 1272 1069ZM478 1425L653 1425L1424 20L1248 20Z"/></svg></div>
<div class="l" style="top:632px;left:6px;letter-spacing:0.0667px;transform:scaleY(1.05);">Manufacturing</div>
<div class="l n" style="top:632px;right:258px;transform:scaleY(1.05);">0.3<svg class="pc" viewBox="0 0 1821 1500" width="23.296" height="19.189" style="vertical-align:-0.768px"><path fill-rule="evenodd" d="M153.0 372A316.5 376 0 1 0 786.0 372A316.5 376 0 1 0 153.0 372ZM314 374A156 240 0 1 0 626 374A156 240 0 1 0 314 374ZM1115.0 1067.5A316.5 372.5 0 1 0 1748.0 1067.5A316.5 372.5 0 1 0 1115.0 1067.5ZM1272 1069A160 238 0 1 0 1592 1069A160 238 0 1 0 1272 1069ZM478 1425L653 1425L1424 20L1248 20Z"/></svg></div>
<div class="l n" style="top:632px;right:133px;transform:translate(0.3px,0px) scaleY(1.05);">-0.7<svg class="pc" viewBox="0 0 1821 1500" width="23.296" height="19.189" style="vertical-align:-0.768px"><path fill-rule="evenodd" d="M153.0 372A316.5 376 0 1 0 786.0 372A316.5 376 0 1 0 153.0 372ZM314 374A156 240 0 1 0 626 374A156 240 0 1 0 314 374ZM1115.0 1067.5A316.5 372.5 0 1 0 1748.0 1067.5A316.5 372.5 0 1 0 1115.0 1067.5ZM1272 1069A160 238 0 1 0 1592 1069A160 238 0 1 0 1272 1069ZM478 1425L653 1425L1424 20L1248 20Z"/></svg></div>
<div class="l n" style="top:632px;right:8px;transform:translate(0.5px,0px) scaleY(1.05);">-0.4<svg class="pc" viewBox="0 0 1821 1500" width="23.296" height="19.189" style="vertical-align:-0.768px"><path fill-rule="evenodd" d="M153.0 372A316.5 376 0 1 0 786.0 372A316.5 376 0 1 0 153.0 372ZM314 374A156 240 0 1 0 626 374A156 240 0 1 0 314 374ZM1115.0 1067.5A316.5 372.5 0 1 0 1748.0 1067.5A316.5 372.5 0 1 0 1115.0 1067.5ZM1272 1069A160 238 0 1 0 1592 1069A160 238 0 1 0 1272 1069ZM478 1425L653 1425L1424 20L1248 20Z"/></svg></div>
<div class="l" style="top:667px;left:6px;letter-spacing:0.0195px;transform:scaleY(1.05);">Agriculture, Forestry, Fishing and Hunting</div>
<div class="l n" style="top:667px;right:258px;transform:scaleY(1.05);">0.0<svg class="pc" viewBox="0 0 1821 1500" width="23.296" height="19.189" style="vertical-align:-0.768px"><path fill-rule="evenodd" d="M153.0 372A316.5 376 0 1 0 786.0 372A316.5 376 0 1 0 153.0 372ZM314 374A156 240 0 1 0 626 374A156 240 0 1 0 314 374ZM1115.0 1067.5A316.5 372.5 0 1 0 1748.0 1067.5A316.5 372.5 0 1 0 1115.0 1067.5ZM1272 1069A160 238 0 1 0 1592 1069A160 238 0 1 0 1272 1069ZM478 1425L653 1425L1424 20L1248 20Z"/></svg></div>
<div class="l n" style="top:667px;right:133px;transform:translate(0.3px,0px) scaleY(1.05);">-<svg class="o1" viewBox="0 0 1139 1409" width="14.571" height="18.025"><path d="M763 1409L583 1409L583 262C518 324 412 386 223 479L223 305C374 234 560 109 647 0L763 0Z"/></svg>.2<svg class="pc" viewBox="0 0 1821 1500" width="23.296" height="19.189" style="vertical-align:-0.768px"><path fill-rule="evenodd" d="M153.0 372A316.5 376 0 1 0 786.0 372A316.5 376 0 1 0 153.0 372ZM314 374A156 240 0 1 0 626 374A156 240 0 1 0 314 374ZM1115.0 1067.5A316.5 372.5 0 1 0 1748.0 1067.5A316.5 372.5 0 1 0 1115.0 1067.5ZM1272 1069A160 238 0 1 0 1592 1069A160 238 0 1 0 1272 1069ZM478 1425L653 1425L1424 20L1248 20Z"/></svg></div>
<div class="l n" style="top:667px;right:8px;transform:translate(0.5px,0px) scaleY(1.05);">-0.8<svg class="pc" viewBox="0 0 1821 1500" width="23.296" height="19.189" style="vertical-align:-0.768px"><path fill-rule="evenodd" d="M153.0 372A316.5 376 0 1 0 786.0 372A316.5 376 0 1 0 153.0 372ZM314 374A156 240 0 1 0 626 374A156 240 0 1 0 314 374ZM1115.0 1067.5A316.5 372.5 0 1 0 1748.0 1067.5A316.5 372.5 0 1 0 1115.0 1067.5ZM1272 1069A160 238 0 1 0 1592 1069A160 238 0 1 0 1272 1069ZM478 1425L653 1425L1424 20L1248 20Z"/></svg></div>
<div class="l" style="top:702px;left:6px;letter-spacing:-0.0242px;transform:scaleY(1.05);">Real Estate and Rental and Leasing</div>
<div class="l n" style="top:702px;right:258px;transform:scaleY(1.05);">0.0<svg class="pc" viewBox="0 0 1821 1500" width="23.296" height="19.189" style="vertical-align:-0.768px"><path fill-rule="evenodd" d="M153.0 372A316.5 376 0 1 0 786.0 372A316.5 376 0 1 0 153.0 372ZM314 374A156 240 0 1 0 626 374A156 240 0 1 0 314 374ZM1115.0 1067.5A316.5 372.5 0 1 0 1748.0 1067.5A316.5 372.5 0 1 0 1115.0 1067.5ZM1272 1069A160 238 0 1 0 1592 1069A160 238 0 1 0 1272 1069ZM478 1425L653 1425L1424 20L1248 20Z"/></svg></div>
<div class="l n" style="top:702px;right:133px;transform:translate(0.3px,0px) scaleY(1.05);">2.5<svg class="pc" viewBox="0 0 1821 1500" width="23.296" height="19.189" style="vertical-align:-0.768px"><path fill-rule="evenodd" d="M153.0 372A316.5 376 0 1 0 786.0 372A316.5 376 0 1 0 153.0 372ZM314 374A156 240 0 1 0 626 374A156 240 0 1 0 314 374ZM1115.0 1067.5A316.5 372.5 0 1 0 1748.0 1067.5A316.5 372.5 0 1 0 1115.0 1067.5ZM1272 1069A160 238 0 1 0 1592 1069A160 238 0 1 0 1272 1069ZM478 1425L653 1425L1424 20L1248 20Z"/></svg></div>
<div class="l n" style="top:702px;right:8px;transform:translate(0.5px,0px) scaleY(1.05);"><svg class="o1" viewBox="0 0 1139 1409" width="14.571" height="18.025"><path d="M763 1409L583 1409L583 262C518 324 412 386 223 479L223 305C374 234 560 109 647 0L763 0Z"/></svg>.3<svg class="pc" viewBox="0 0 1821 1500" width="23.296" height="19.189" style="vertical-align:-0.768px"><path fill-rule="evenodd" d="M153.0 372A316.5 376 0 1 0 786.0 372A316.5 376 0 1 0 153.0 372ZM314 374A156 240 0 1 0 626 374A156 240 0 1 0 314 374ZM1115.0 1067.5A316.5 372.5 0 1 0 1748.0 1067.5A316.5 372.5 0 1 0 1115.0 1067.5ZM1272 1069A160 238 0 1 0 1592 1069A160 238 0 1 0 1272 1069ZM478 1425L653 1425L1424 20L1248 20Z"/></svg></div>
<div class="l" style="top:737px;left:6px;letter-spacing:0.0300px;transform:scaleY(1.05);">Finance and Insurance</div>
<div class="l n" style="top:737px;right:258px;transform:scaleY(1.05);">-0.3<svg class="pc" viewBox="0 0 1821 1500" width="23.296" height="19.189" style="vertical-align:-0.768px"><path fill-rule="evenodd" d="M153.0 372A316.5 376 0 1 0 786.0 372A316.5 376 0 1 0 153.0 372ZM314 374A156 240 0 1 0 626 374A156 240 0 1 0 314 374ZM1115.0 1067.5A316.5 372.5 0 1 0 1748.0 1067.5A316.5 372.5 0 1 0 1115.0 1067.5ZM1272 1069A160 238 0 1 0 1592 1069A160 238 0 1 0 1272 1069ZM478 1425L653 1425L1424 20L1248 20Z"/></svg></div>
<div class="l n" style="top:737px;right:133px;transform:translate(0.3px,0px) scaleY(1.05);">-0.<svg class="o1" viewBox="0 0 1139 1409" width="14.571" height="18.025"><path d="M763 1409L583 1409L583 262C518 324 412 386 223 479L223 305C374 234 560 109 647 0L763 0Z"/></svg><svg class="pc" viewBox="0 0 1821 1500" width="23.296" height="19.189" style="vertical-align:-0.768px"><path fill-rule="evenodd" d="M153.0 372A316.5 376 0 1 0 786.0 372A316.5 376 0 1 0 153.0 372ZM314 374A156 240 0 1 0 626 374A156 240 0 1 0 314 374ZM1115.0 1067.5A316.5 372.5 0 1 0 1748.0 1067.5A316.5 372.5 0 1 0 1115.0 1067.5ZM1272 1069A160 238 0 1 0 1592 1069A160 238 0 1 0 1272 1069ZM478 1425L653 1425L1424 20L1248 20Z"/></svg></div>
<div class="l n" style="top:737px;right:8px;transform:translate(0.5px,0px) scaleY(1.05);">-0.2<svg class="pc" viewBox="0 0 1821 1500" width="23.296" height="19.189" style="vertical-align:-0.768px"><path fill-rule="evenodd" d="M153.0 372A316.5 376 0 1 0 786.0 372A316.5 376 0 1 0 153.0 372ZM314 374A156 240 0 1 0 626 374A156 240 0 1 0 314 374ZM1115.0 1067.5A316.5 372.5 0 1 0 1748.0 1067.5A316.5 372.5 0 1 0 1115.0 1067.5ZM1272 1069A160 238 0 1 0 1592 1069A160 238 0 1 0 1272 1069ZM478 1425L653 1425L1424 20L1248 20Z"/></svg></div>
<div class="l" style="top:772px;left:6px;letter-spacing:0.1818px;transform:scaleY(1.05);">Retail Trade</div>
<div class="l n" style="top:772px;right:258px;transform:scaleY(1.05);">-0.6<svg class="pc" viewBox="0 0 1821 1500" width="23.296" height="19.189" style="vertical-align:-0.768px"><path fill-rule="evenodd" d="M153.0 372A316.5 376 0 1 0 786.0 372A316.5 376 0 1 0 153.0 372ZM314 374A156 240 0 1 0 626 374A156 240 0 1 0 314 374ZM1115.0 1067.5A316.5 372.5 0 1 0 1748.0 1067.5A316.5 372.5 0 1 0 1115.0 1067.5ZM1272 1069A160 238 0 1 0 1592 1069A160 238 0 1 0 1272 1069ZM478 1425L653 1425L1424 20L1248 20Z"/></svg></div>
<div class="l n" style="top:772px;right:133px;transform:translate(0.3px,0px) scaleY(1.05);">-0.<svg class="o1" viewBox="0 0 1139 1409" width="14.571" height="18.025"><path d="M763 1409L583 1409L583 262C518 324 412 386 223 479L223 305C374 234 560 109 647 0L763 0Z"/></svg><svg class="pc" viewBox="0 0 1821 1500" width="23.296" height="19.189" style="vertical-align:-0.768px"><path fill-rule="evenodd" d="M153.0 372A316.5 376 0 1 0 786.0 372A316.5 376 0 1 0 153.0 372ZM314 374A156 240 0 1 0 626 374A156 240 0 1 0 314 374ZM1115.0 1067.5A316.5 372.5 0 1 0 1748.0 1067.5A316.5 372.5 0 1 0 1115.0 1067.5ZM1272 1069A160 238 0 1 0 1592 1069A160 238 0 1 0 1272 1069ZM478 1425L653 1425L1424 20L1248 20Z"/></svg></div>
<div class="l n" style="top:772px;right:8px;transform:translate(0.5px,0px) scaleY(1.05);">-0.3<svg class="pc" viewBox="0 0 1821 1500" width="23.296" height="19.189" style="vertical-align:-0.768px"><path fill-rule="evenodd" d="M153.0 372A316.5 376 0 1 0 786.0 372A316.5 376 0 1 0 153.0 372ZM314 374A156 240 0 1 0 626 374A156 240 0 1 0 314 374ZM1115.0 1067.5A316.5 372.5 0 1 0 1748.0 1067.5A316.5 372.5 0 1 0 1115.0 1067.5ZM1272 1069A160 238 0 1 0 1592 1069A160 238 0 1 0 1272 1069ZM478 1425L653 1425L1424 20L1248 20Z"/></svg></div>
<div class="l" style="top:807px;left:6px;letter-spacing:0.0435px;transform:scaleY(1.05);">Administrative and Support and Waste Management</div>
<div class="l n" style="top:807px;right:258px;transform:scaleY(1.05);">-2.3<svg class="pc" viewBox="0 0 1821 1500" width="23.296" height="19.189" style="vertical-align:-0.768px"><path fill-rule="evenodd" d="M153.0 372A316.5 376 0 1 0 786.0 372A316.5 376 0 1 0 153.0 372ZM314 374A156 240 0 1 0 626 374A156 240 0 1 0 314 374ZM1115.0 1067.5A316.5 372.5 0 1 0 1748.0 1067.5A316.5 372.5 0 1 0 1115.0 1067.5ZM1272 1069A160 238 0 1 0 1592 1069A160 238 0 1 0 1272 1069ZM478 1425L653 1425L1424 20L1248 20Z"/></svg></div>
<div class="l n" style="top:807px;right:133px;transform:translate(0.3px,0px) scaleY(1.05);">-3.<svg class="o1" viewBox="0 0 1139 1409" width="14.571" height="18.025"><path d="M763 1409L583 1409L583 262C518 324 412 386 223 479L223 305C374 234 560 109 647 0L763 0Z"/></svg><svg class="pc" viewBox="0 0 1821 1500" width="23.296" height="19.189" style="vertical-align:-0.768px"><path fill-rule="evenodd" d="M153.0 372A316.5 376 0 1 0 786.0 372A316.5 376 0 1 0 153.0 372ZM314 374A156 240 0 1 0 626 374A156 240 0 1 0 314 374ZM1115.0 1067.5A316.5 372.5 0 1 0 1748.0 1067.5A316.5 372.5 0 1 0 1115.0 1067.5ZM1272 1069A160 238 0 1 0 1592 1069A160 238 0 1 0 1272 1069ZM478 1425L653 1425L1424 20L1248 20Z"/></svg></div>
<div class="l n" style="top:807px;right:8px;transform:translate(0.5px,0px) scaleY(1.05);">-2.8<svg class="pc" viewBox="0 0 1821 1500" width="23.296" height="19.189" style="vertical-align:-0.768px"><path fill-rule="evenodd" d="M153.0 372A316.5 376 0 1 0 786.0 372A316.5 376 0 1 0 153.0 372ZM314 374A156 240 0 1 0 626 374A156 240 0 1 0 314 374ZM1115.0 1067.5A316.5 372.5 0 1 0 1748.0 1067.5A316.5 372.5 0 1 0 1115.0 1067.5ZM1272 1069A160 238 0 1 0 1592 1069A160 238 0 1 0 1272 1069ZM478 1425L653 1425L1424 20L1248 20Z"/></svg></div>
<div class="l" style="top:843px;left:6px;letter-spacing:0.1379px;transform:scaleY(1.05);">Transportation and Warehousing</div>
<div class="l n" style="top:843px;right:258px;transform:scaleY(1.05);">-8.2<svg class="pc" viewBox="0 0 1821 1500" width="23.296" height="19.189" style="vertical-align:-0.768px"><path fill-rule="evenodd" d="M153.0 372A316.5 376 0 1 0 786.0 372A316.5 376 0 1 0 153.0 372ZM314 374A156 240 0 1 0 626 374A156 240 0 1 0 314 374ZM1115.0 1067.5A316.5 372.5 0 1 0 1748.0 1067.5A316.5 372.5 0 1 0 1115.0 1067.5ZM1272 1069A160 238 0 1 0 1592 1069A160 238 0 1 0 1272 1069ZM478 1425L653 1425L1424 20L1248 20Z"/></svg></div>
<div class="l n" style="top:843px;right:133px;transform:translate(0.3px,0px) scaleY(1.05);">-4.<svg class="o1" viewBox="0 0 1139 1409" width="14.571" height="18.025"><path d="M763 1409L583 1409L583 262C518 324 412 386 223 479L223 305C374 234 560 109 647 0L763 0Z"/></svg><svg class="pc" viewBox="0 0 1821 1500" width="23.296" height="19.189" style="vertical-align:-0.768px"><path fill-rule="evenodd" d="M153.0 372A316.5 376 0 1 0 786.0 372A316.5 376 0 1 0 153.0 372ZM314 374A156 240 0 1 0 626 374A156 240 0 1 0 314 374ZM1115.0 1067.5A316.5 372.5 0 1 0 1748.0 1067.5A316.5 372.5 0 1 0 1115.0 1067.5ZM1272 1069A160 238 0 1 0 1592 1069A160 238 0 1 0 1272 1069ZM478 1425L653 1425L1424 20L1248 20Z"/></svg></div>
<div class="l n" style="top:843px;right:8px;transform:translate(0.5px,0px) scaleY(1.05);">-5.4<svg class="pc" viewBox="0 0 1821 1500" width="23.296" height="19.189" style="vertical-align:-0.768px"><path fill-rule="evenodd" d="M153.0 372A316.5 376 0 1 0 786.0 372A316.5 376 0 1 0 153.0 372ZM314 374A156 240 0 1 0 626 374A156 240 0 1 0 314 374ZM1115.0 1067.5A316.5 372.5 0 1 0 1748.0 1067.5A316.5 372.5 0 1 0 1115.0 1067.5ZM1272 1069A160 238 0 1 0 1592 1069A160 238 0 1 0 1272 1069ZM478 1425L653 1425L1424 20L1248 20Z"/></svg></div>
<div class="l i" style="top:911px;left:8px;letter-spacing:-0.0362px;transform:translate(-0.6px,1px) scaleY(1.09);">Source: Oregon Employment Department and U.S. Census Bureau, Quarterly</div>
<div class="l i" style="top:944px;left:8px;transform:translate(-0.4px,0px) scaleY(1.05);">Workforce Indicators</div>
</body></html>
